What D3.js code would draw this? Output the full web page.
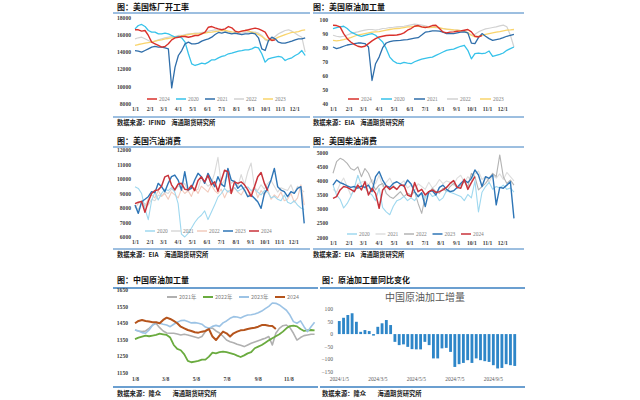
<!DOCTYPE html>
<html><head><meta charset="utf-8">
<script src="https://cdn.jsdelivr.net/npm/d3@7"></script>
<style>body{margin:0;background:#fff}svg{display:block}</style></head>
<body><svg id="c" width="640" height="400"></svg>
<script>
// ---------- DATA ----------
const usMonthDays = [0,31,59,90,120,151,181,212,243,273,304,334];
const usMonthLabels = ["1/1","2/1","3/1","4/1","5/1","6/1","7/1","8/1","9/1","10/1","11/1","12/1"];
const cnDays = [0,60,121,182,244,305];
const cnLabels = ["1/8","3/8","5/8","7/8","9/8","11/8"];

// Panel 1: 美国炼厂开工率 (weekly)
const p1Years = ["2024","2020","2021","2022","2023"];
const p1_2024 = [16570,16570,16420,16490,15910,15130,14940,14750,14550,14630,14940,15400,15630,15710,15790,15790,15710,15790,15910,15910,16100,16300,16870,16950,16800,16680,16570,16680,16950,16800,16420,16300,16420,16490,16570,16680,16760,16680,16490,16300,15630,15330,15400];
const p1_2020 = [16680,17070,17190,16960,16490,16300,16300,16100,16100,16180,16100,15910,15710,15790,15640,15130,13780,12610,12420,12540,12690,12610,12810,13080,13080,13310,13470,13580,13780,13850,13970,14090,14160,14240,14240,14360,14550,14470,13780,12810,13200,13310,13390,13470,13390,13000,13200,13310,13580,13780,14160,13580];
const p1_2021 = [14160,14090,13970,14160,14360,14550,14630,14550,14550,14470,14360,9820,12230,13580,14160,14940,15130,14940,14940,15020,15250,15400,15520,15710,16020,16260,16180,16300,16180,16100,16180,16100,16020,16100,16100,16180,16100,15640,14360,14160,15330,15710,15520,15130,15020,15020,15130,15250,15400,15520,15520,15640];
const p1_2022 = [15520,15640,15710,15520,15330,15130,15250,15400,15520,15640,15710,15790,15790,15910,15910,16020,16100,16100,16180,16180,16260,16300,16410,16490,16570,16570,16490,16410,16300,16180,16100,16100,16180,16260,16300,16300,16300,16180,15910,15400,15250,15520,15790,16100,16300,16490,16570,16410,16180,15910,15710,13970];
const p1_2023 = [14750,14860,14940,15020,15090,15130,15250,15330,15400,15520,15560,15640,15710,15790,15870,15910,16020,16100,16100,16100,16140,16180,16260,16300,16370,16410,16490,16490,16410,16340,16300,16340,16410,16490,16410,16300,16180,16020,15790,15520,15330,15400,15520,15710,15870,16020,16140,16260,16300,16370,16490,16570];
const p1Ticks = [8000,10000,12000,14000,16000,18000];

// Panel 2: 美国原油加工量
const p2_2024 = [95.9,95.7,94.8,90,86.4,84,82.4,81,80.5,81,82.9,84.8,86.4,87.6,88.1,88.6,88.8,88.8,89,89.5,90.5,92.4,93.6,95.2,95.7,94.8,94.3,94.8,95.7,95.9,93.6,91.2,90.5,91,91.2,91.7,91.9,92.4,92.9,91.2,88.1,87.6,88.6];
const p2_2020 = [93.6,94.3,94.8,95.2,93.6,91.2,90,88.8,88.1,88.8,89.5,90,88.8,86.4,84,79.3,73.3,70.5,69,68.6,69.5,69,68.6,70,71,71.9,72.4,72.9,73.3,74.5,75.7,76.9,78.1,78.6,79,80,81,81.7,78.1,72.1,75.7,76.2,75.7,76.2,77.6,73.8,74.5,75.2,76.2,78.1,79.3,80.5];
const p2_2021 = [80.5,79.3,80,81,81.9,82.4,82.9,83.3,83.3,82.9,80.5,56.7,68.6,73.3,80,83.3,84.3,84.8,85,85.2,85.5,85.7,86.2,86.7,87.1,89,91,91.4,91.9,91.9,91.7,91,90,90,90,90.5,91,91.2,90.5,83.3,82.9,87.1,90,88.1,86.4,85.2,85.7,86.2,87.1,88.1,88.8,89.5];
const p2_2022 = [88.8,88.1,87.6,88.1,89,90,90.7,91.2,91.9,92.4,92.9,92.9,92.4,92.9,93.6,93.8,94.3,94.5,94.8,95,95.2,95.7,96.2,96.7,96.4,96,95.5,94.8,94.5,94.3,93.8,93.6,93.1,92.9,92.6,92.4,92.1,91.9,90.5,89,89.5,91.2,92.4,93.3,93.8,94.3,94.8,95.5,96,94.8,88.8,80.5];
const p2_2023 = [85.2,84.8,85.2,85.7,86.4,87.1,88.1,89,89.5,90,90.5,91,91.2,91.4,91.9,92.4,92.9,93.3,93.6,93.8,94.3,94.8,94.8,95.2,95.2,94.8,94.5,94.3,94.5,94.8,94.3,93.6,93.1,92.9,92.6,92.4,92.1,91.9,90.5,88.8,87.6,88.1,88.8,89.5,90,90.5,91,91.4,91.9,92.4,92.6,92.9];
const p2Ticks = [40,50,60,70,80,90,100];

// Panel 3: 美国汽油消费
const p3Years = ["2020","2021","2022","2023","2024"];
const p3_2020 = [9470,9350,9000,7950,7200,8500,9100,8550,9000,9300,9200,9400,9100,8300,6200,6000,6250,6600,7000,7300,7500,7800,7200,7700,8200,8750,9000,9350,9100,9300,9400,9150,9300,9400,9450,9200,9300,9100,8900,9200,9100,8700,8800,8600,8500,8900,8400,8300,8500,8200,8000,7900];
const p3_2021 = [8100,7900,8400,8300,8200,8600,8500,8900,8800,9100,9000,9300,9200,9500,9400,9700,9100,9600,9200,9300,10100,9800,9500,9700,10400,11500,9600,9900,10200,9700,9900,9500,10300,9600,10500,11100,9400,9200,9600,9300,9700,9900,9500,9100,9400,9300,9200,9600,9000,9500,9300,9100];
const p3_2022 = [8000,8300,8500,8100,8600,8900,8700,9200,8800,9000,8600,9100,8900,8700,9300,9000,9200,8800,9400,9000,9500,9300,9100,9600,9200,9000,9300,8700,9200,9000,9400,9100,8900,9300,8800,9100,9500,8700,9200,8900,9300,8600,8900,8700,9100,8500,8600,9000,8400,8700,9600,8200];
const p3_2023 = [8200,7630,8430,8600,8780,9125,9060,9700,9470,9125,9700,10160,10275,9930,9240,10505,9240,9355,9930,10390,10160,9700,10390,9930,9470,10160,9650,9470,10735,9930,9815,9355,9585,9240,8780,8895,8665,8435,7975,9010,9355,9930,10735,9470,9240,9125,8780,9125,9010,9355,9470,6940];
const p3_2024 = [8300,8400,8450,7700,8450,9000,9200,9250,9500,10150,10250,9600,9250,9650,9700,9300,9250,9550,9200,9900,10150,9800,10250,9600,9800,9150,9900,10600,10500,9000,9800,9700,9800,9600,9250,8800,9450,10150,10450,9700,9200];
const p3Ticks = [6000,7000,8000,9000,10000,11000,12000];

// Panel 4: 美国柴油消费
const p4_2020 = [3850,3500,3350,3040,3200,3440,3740,4200,3850,3740,3600,3500,3300,3740,3050,2900,2800,3100,3300,3350,3450,3300,3400,3300,3500,3560,3400,3620,3450,3500,3300,3400,3650,3600,3550,3500,3450,3300,3520,3400,4000,2900,3600,3800,3950,3700,3800,3750,3850,3700,3750,3600];
const p4_2021 = [3700,3600,3900,4100,3800,3500,3650,3900,3950,4000,3850,4050,3900,4200,3800,3950,4100,3850,3700,3900,4000,3750,3850,3650,3900,3800,3700,3950,3750,3850,4050,3900,4000,3950,3850,4100,4200,3950,4150,4000,4250,4350,4050,4150,3950,4200,4100,4250,4050,4300,4150,4000];
const p4_2022 = [4270,4680,4800,4740,4620,4440,4380,4500,4150,4440,4270,3950,3680,3850,3910,3560,3440,3380,3500,3620,3440,3560,3500,3620,3200,2850,3440,3560,3740,3620,3560,3740,3620,3800,3910,3740,3850,3970,3800,4270,4150,3680,3800,3910,4090,4270,4150,4920,4150,3910,4030,3850];
const p4_2023 = [3850,4030,3940,3890,3820,3770,3800,3740,3820,3770,3850,3620,4150,4330,4030,3820,3770,3910,3970,3890,3800,4030,3890,3620,3440,3580,3090,3620,3650,3500,3770,3850,3700,3620,3650,3770,3910,4030,3940,4090,4390,4210,3800,4150,4090,4210,3150,3770,3740,3850,3970,2670];
const p4_2024 = [3380,3440,3680,3800,3770,3700,3620,3850,3680,3970,3500,3740,3560,3030,3680,3820,3700,3800,3700,3850,3850,3500,3440,3940,3620,3700,3500,3620,3680,3590,3620,3680,3770,3910,4010,3770,3740,4060,3700,3940,4150];
const p4Ticks = [2000,2500,3000,3500,4000,4500,5000];

// Panel 5: 中国原油加工量
const p5Names = ["2021年","2022年","2023年","2024"];
const p5_2021 = [1407,1401,1397,1401,1417,1437,1446,1421,1401,1389,1387,1387,1383,1377,1381,1377,1371,1365,1359,1367,1397,1417,1419,1401,1389,1369,1346,1336,1330,1320,1314,1306,1316,1326,1334,1342,1350,1357,1367,1316,1387,1417,1433,1437,1421,1387,1346,1361,1373,1377,1381,1381];
const p5_2022 = [1352,1361,1367,1373,1369,1373,1377,1385,1381,1377,1361,1316,1292,1284,1259,1219,1211,1215,1219,1227,1227,1245,1269,1265,1272,1276,1272,1267,1261,1251,1243,1253,1265,1272,1296,1306,1316,1330,1344,1357,1369,1381,1397,1417,1431,1433,1429,1413,1401,1405,1407,1405];
const p5_2023 = [1407,1401,1391,1387,1407,1437,1452,1448,1442,1437,1427,1442,1454,1464,1466,1458,1450,1452,1448,1442,1425,1417,1429,1435,1429,1450,1462,1478,1488,1486,1480,1490,1498,1500,1504,1512,1522,1537,1551,1571,1569,1559,1543,1527,1498,1458,1448,1462,1427,1397,1427,1454];
const p5_2024 = [1448,1462,1468,1462,1458,1454,1454,1448,1468,1482,1474,1462,1448,1427,1417,1407,1401,1393,1391,1397,1401,1413,1367,1346,1373,1397,1387,1367,1387,1397,1405,1407,1413,1417,1421,1427,1437,1437,1433,1431,1413];
const p5Ticks = [1150,1250,1350,1450,1550,1650];

// Panel 6: 原油加工量同比变化 (weekly, 2024)
const p6Values = [52,65,76,83,49,9,16,12,-6,29,43,56,36,-31,-44,-41,-51,-60,-61,-61,-31,-44,-97,-97,-57,-55,-71,-131,-120,-115,-104,-115,-97,-104,-108,-111,-124,-137,-135,-120,-124,-127];
const p6LabelIdx = [0,9,18,27,36];
const p6Labels = ["2024/1/5","2024/3/5","2024/5/5","2024/7/5","2024/9/5"];
const p6Ticks = [-150,-100,-50,0,50,100];

// ---------- DRAW ----------
const svg = d3.select("#c");
svg.append("rect").attr("width",640).attr("height",400).attr("fill","#fff");
const CJK = "'Noto Sans CJK SC','Noto Sans',sans-serif";
const NUM = "'Liberation Serif','DejaVu Serif',serif";
const BLUE = "#3a7fc1";

function frame(o){
  const g = svg.append("g");
  g.append("text").attr("x",o.tx).attr("y",o.ty).text(o.title)
    .attr("font-family",CJK).attr("font-size",8).attr("font-weight",700).attr("fill","#111");
  g.append("line").attr("x1",o.x1).attr("x2",o.x2).attr("y1",o.ly1).attr("y2",o.ly1)
    .attr("stroke",BLUE).attr("stroke-width",o.lw||1);
  g.append("line").attr("x1",o.x1).attr("x2",o.x2).attr("y1",o.ly2).attr("y2",o.ly2)
    .attr("stroke",BLUE).attr("stroke-width",o.lw||1);
  g.append("text").attr("x",o.tx).attr("y",o.sy).text(o.source).attr("xml:space","preserve")
    .style("white-space","pre")
    .attr("font-family",CJK).attr("font-size",6.3).attr("font-weight",700).attr("fill","#222");
}

function linePanel(o){
  const x = d3.scaleLinear().domain([0,365]).range(o.xr);
  const y = d3.scaleLinear().domain(o.yd).range(o.yr);
  const g = svg.append("g");
  const ya = d3.axisLeft(y).tickValues(o.yt).tickSize(0).tickPadding(0).tickFormat(d3.format("d"));
  g.append("g").attr("transform",`translate(${o.ylx},0)`).call(ya)
    .call(s=>{s.select(".domain").remove();
      s.selectAll("text").attr("font-family",NUM).attr("font-size",5.6).attr("font-weight",700).attr("fill","#404040");});
  const xa = d3.axisBottom(x).tickValues(o.xt).tickSize(0).tickPadding(0).tickFormat((d,i)=>o.xl[i]);
  g.append("g").attr("transform",`translate(0,${o.xly})`).call(xa)
    .call(s=>{s.select(".domain").remove();
      s.selectAll("text").attr("font-family",NUM).attr("font-size",5.6).attr("font-weight",700).attr("fill","#404040");});
  const line = d3.line().x((d,i)=>x(i*7)).y(d=>y(d)).curve(d3.curveLinear);
  o.draw.forEach(s=>{
    g.append("path").datum(s.v).attr("d",line).attr("fill","none")
      .attr("stroke",s.c).attr("stroke-width",s.w).attr("stroke-linejoin","round");
  });
  o.legend.forEach((s,i)=>{
    const lx = o.lg.x + i*o.lg.step;
    g.append("line").attr("x1",lx).attr("x2",lx+o.lg.len).attr("y1",o.lg.y).attr("y2",o.lg.y)
      .attr("stroke",s.c).attr("stroke-width",s.lw||1.5);
    g.append("text").attr("x",lx+o.lg.len+2).attr("y",o.lg.y+2).text(s.n)
      .attr("font-family",o.lg.font||NUM).attr("font-size",5.4).attr("fill","#7f7f7f");
  });
}

// colours
const C1 = {"2024":"#d9312b","2020":"#36c2ea","2021":"#2f6eaa","2022":"#d2d2d2","2023":"#f9d46b"};

// Panel 1
frame({title:"图：美国炼厂开工率",tx:117,ty:10,x1:113,x2:310,ly1:13,ly2:117,sy:125,source:"数据来源：IFIND    海通期货研究所"});
linePanel({xr:[135,309],yd:[8000,18000],yr:[103.5,17.5],yt:p1Ticks,ylx:131,xt:usMonthDays,xl:usMonthLabels,xly:107.5,
  draw:[{v:p1_2022,c:C1["2022"],w:1.2},{v:p1_2023,c:C1["2023"],w:1.3},{v:p1_2020,c:C1["2020"],w:1.3},{v:p1_2021,c:C1["2021"],w:1.3},{v:p1_2024,c:C1["2024"],w:1.4}],
  legend:[{n:"2024",c:C1["2024"]},{n:"2020",c:C1["2020"]},{n:"2021",c:C1["2021"]},{n:"2022",c:C1["2022"]},{n:"2023",c:C1["2023"]}],
  lg:{x:147,y:99,step:29,len:10}});

// Panel 2
frame({title:"图：美国原油加工量",tx:313,ty:10,x1:313,x2:524,ly1:13,ly2:117,sy:125,source:"数据来源：EIA    海通期货研究所"});
linePanel({xr:[333,518],yd:[40,100],yr:[104,19.5],yt:p2Ticks,ylx:328,xt:usMonthDays,xl:usMonthLabels,xly:107.5,
  draw:[{v:p2_2022,c:C1["2022"],w:1.2},{v:p2_2023,c:C1["2023"],w:1.3},{v:p2_2020,c:C1["2020"],w:1.3},{v:p2_2021,c:C1["2021"],w:1.3},{v:p2_2024,c:C1["2024"],w:1.4}],
  legend:[{n:"2024",c:C1["2024"]},{n:"2020",c:C1["2020"]},{n:"2021",c:C1["2021"]},{n:"2022",c:C1["2022"]},{n:"2023",c:C1["2023"]}],
  lg:{x:348,y:99,step:33,len:11}});

// Panel 3
const C3 = {"2020":"#9fd8ef","2021":"#d9d9d9","2022":"#f2cbbd","2023":"#2e75b6","2024":"#c8323a"};
frame({title:"图：美国汽油消费",tx:117,ty:144,x1:113,x2:310,ly1:147,ly2:249,sy:257,source:"数据来源：EIA    海通期货研究所"});
linePanel({xr:[135,308],yd:[6000,12000],yr:[237,150],yt:p3Ticks,ylx:131,xt:usMonthDays,xl:usMonthLabels,xly:240.5,
  draw:[{v:p3_2021,c:C3["2021"],w:1.1},{v:p3_2022,c:C3["2022"],w:1.1},{v:p3_2020,c:C3["2020"],w:1.1},{v:p3_2023,c:C3["2023"],w:1.4},{v:p3_2024,c:C3["2024"],w:1.5}],
  legend:p3Years.map(n=>({n:n,c:C3[n]})),
  lg:{x:145,y:231,step:26,len:10}});

// Panel 4
const C4 = {"2020":"#9fd8ef","2021":"#dedede","2022":"#b3b3b3","2023":"#2e75b6","2024":"#c8323a"};
frame({title:"图：美国柴油消费",tx:313,ty:144,x1:313,x2:524,ly1:147,ly2:249,sy:257,source:"数据来源：EIA    海通期货研究所"});
linePanel({xr:[333,518],yd:[2000,5000],yr:[237.3,152.7],yt:p4Ticks,ylx:328,xt:usMonthDays,xl:usMonthLabels,xly:241.5,
  draw:[{v:p4_2021,c:C4["2021"],w:1.1},{v:p4_2022,c:C4["2022"],w:1.1},{v:p4_2020,c:C4["2020"],w:1.1},{v:p4_2023,c:C4["2023"],w:1.4},{v:p4_2024,c:C4["2024"],w:1.5}],
  legend:p3Years.map(n=>({n:n,c:C4[n]})),
  lg:{x:347,y:234,step:28.5,len:10}});

// Panel 5
const C5 = ["#b0b0b0","#6aab3f","#9cc3e5","#b5541c"];
frame({title:"图：中国原油加工量",tx:117,ty:283,x1:113,x2:318,ly1:288,ly2:387,sy:396,lw:1.6,source:"数据来源：隆众        海通期货研究所"});
linePanel({xr:[135,318.6],yd:[1150,1650],yr:[372.3,290],yt:p5Ticks,ylx:128,xt:cnDays,xl:cnLabels,xly:377.5,
  draw:[{v:p5_2021,c:C5[0],w:1.6},{v:p5_2022,c:C5[1],w:1.8},{v:p5_2023,c:C5[2],w:1.6},{v:p5_2024,c:C5[3],w:2}],
  legend:p5Names.map((n,i)=>({n:n,c:C5[i],lw:2})),
  lg:{x:167,y:297,step:36,len:10,font:CJK}});

// Panel 6
frame({title:"图：原油加工量同比变化",tx:322,ty:283,x1:320,x2:525,ly1:288,ly2:387,sy:396,lw:1.6,source:"数据来源：隆众        海通期货研究所"});
(function(){
  const g = svg.append("g");
  const x = d3.scaleBand().domain(d3.range(p6Values.length)).range([337,517]).paddingInner(0.34).paddingOuter(0.2);
  const y = d3.scaleLinear().domain([-150,100]).range([371.7,309]);
  g.append("text").attr("x",425).attr("y",301).attr("text-anchor","middle").text("中国原油加工增量")
    .attr("font-family",CJK).attr("font-size",10).attr("fill","#595959");
  const ya = d3.axisLeft(y).tickValues(p6Ticks).tickSize(0).tickPadding(0).tickFormat(d3.format("d"));
  g.append("g").attr("transform","translate(333,0)").call(ya)
    .call(s=>{s.select(".domain").remove();
      s.selectAll("text").attr("font-family",NUM).attr("font-size",5.6).attr("fill","#595959");});
  g.selectAll("rect.b").data(p6Values).join("rect").attr("class","b")
    .attr("x",(d,i)=>x(i)).attr("width",x.bandwidth())
    .attr("y",d=>y(Math.max(0,d))).attr("height",d=>Math.abs(y(d)-y(0)))
    .attr("fill","#2e86c8");
  const xa = d3.axisBottom(x).tickValues(p6LabelIdx).tickSize(0).tickPadding(0)
    .tickFormat(d=>p6Labels[p6LabelIdx.indexOf(d)]);
  g.append("g").attr("transform","translate(0,377.5)").call(xa)
    .call(s=>{s.select(".domain").remove();
      s.selectAll("text").attr("font-family",NUM).attr("font-size",5.4).attr("fill","#595959");});
})();
</script></body></html>
